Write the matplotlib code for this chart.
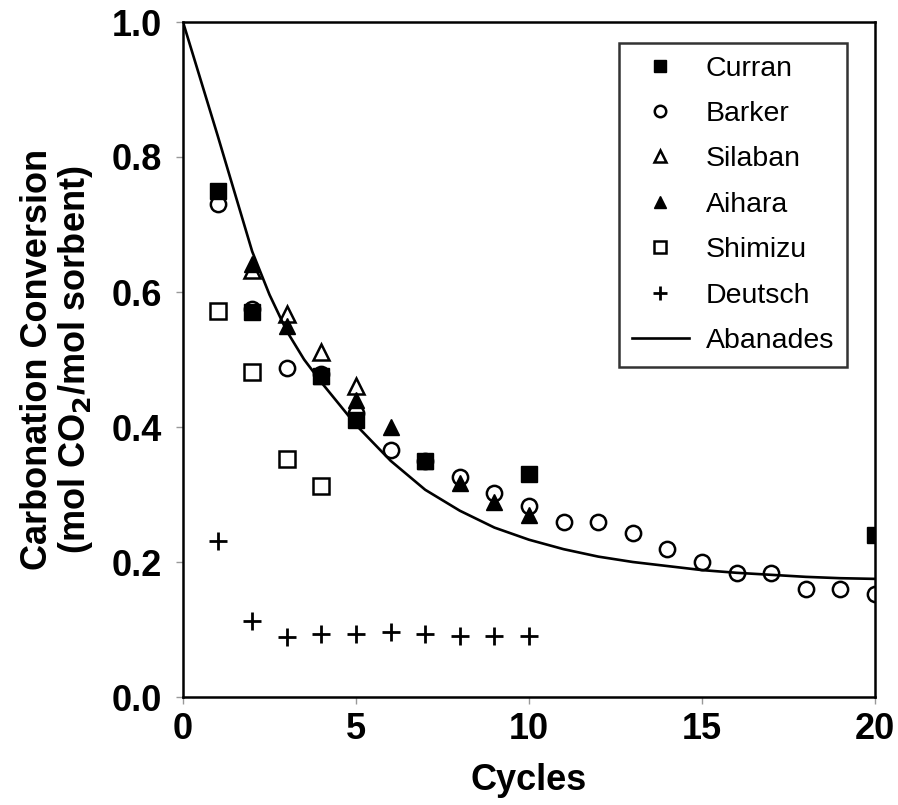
import numpy as np
import matplotlib.pyplot as plt

# data
curran_x = [1, 2, 4, 5, 7, 10, 20]
curran_y = [0.75, 0.57, 0.475, 0.41, 0.35, 0.33, 0.24]

barker_x = list(range(1, 21))
barker_y = [0.73, 0.575, 0.488, 0.478, 0.42, 0.366, 0.35, 0.326, 0.302, 0.283,
            0.26, 0.26, 0.243, 0.22, 0.2, 0.183, 0.183, 0.16, 0.16, 0.152]

silaban_x = [2, 3, 4, 5]
silaban_y = [0.632, 0.568, 0.511, 0.46]

aihara_x = [2, 3, 4, 5, 6, 7, 8, 9, 10]
aihara_y = [0.642, 0.55, 0.475, 0.44, 0.4, 0.35, 0.317, 0.289, 0.27]

shimizu_x = [1, 2, 3, 4]
shimizu_y = [0.572, 0.481, 0.352, 0.312]

deutsch_x = list(range(1, 11))
deutsch_y = [0.231, 0.112, 0.089, 0.093, 0.093, 0.096, 0.093, 0.091, 0.091, 0.091]

abanades_x = [0, 0.5, 1, 1.5, 2, 2.5, 3, 3.5, 4, 5, 6, 7, 8, 9, 10,
              11, 12, 13, 14, 15, 16, 17, 18, 19, 20]
abanades_y = [1.0, 0.916, 0.832, 0.746, 0.66, 0.596, 0.542, 0.5, 0.466, 0.403,
              0.35, 0.307, 0.276, 0.251, 0.233, 0.219, 0.208, 0.2, 0.194,
              0.188, 0.184, 0.181, 0.178, 0.176, 0.175]

fig = plt.figure(figsize=(8.98, 8.05), dpi=100)
ax = fig.add_axes([183/898, 1-697/805, 692/898, 675/805])

ms = 11
ax.plot(curran_x, curran_y, 's', color='black', ms=ms, label='Curran', zorder=3)
ax.plot(barker_x, barker_y, 'o', mfc='none', mec='black', mew=1.8, ms=ms, label='Barker', zorder=3)
ax.plot(silaban_x, silaban_y, '^', mfc='none', mec='black', mew=1.8, ms=ms+1, label='Silaban', zorder=3)
ax.plot(aihara_x, aihara_y, '^', color='black', ms=ms+1, label='Aihara', zorder=3)
ax.plot(shimizu_x, shimizu_y, 's', mfc='none', mec='black', mew=1.8, ms=ms, label='Shimizu', zorder=3)
ax.plot(deutsch_x, deutsch_y, '+', color='black', mew=2.0, ms=ms+2, label='Deutsch', zorder=3)
ax.plot(abanades_x, abanades_y, '-', color='black', lw=1.9, label='Abanades', zorder=2)

ax.set_xlim(0, 20)
ax.set_ylim(0, 1.0)
ax.set_xticks([0, 5, 10, 15, 20])
ax.set_yticks([0.0, 0.2, 0.4, 0.6, 0.8, 1.0])
ax.set_yticklabels(['0.0', '0.2', '0.4', '0.6', '0.8', '1.0'])
ax.tick_params(direction='out', length=5, width=1, color='#999999', labelsize=26, pad=6)
ax.tick_params(axis='y', pad=10)
for lab in ax.get_xticklabels() + ax.get_yticklabels():
    lab.set_fontweight('bold')
    lab.set_family('Liberation Sans')
for sp in ax.spines.values():
    sp.set_linewidth(1.8)

lab_font = {'family': ['Liberation Sans Narrow', 'Liberation Sans'], 'weight': 'bold', 'size': 26}
ax.set_xlabel('Cycles', fontdict=lab_font, labelpad=11)
ax.set_ylabel('Carbonation Conversion\n(mol CO$_\\mathbf{2}$/mol sorbent)', fontdict=lab_font,
              labelpad=12, linespacing=1.05)

leg = ax.legend(loc='upper right', bbox_to_anchor=(0.9595, 0.969), borderaxespad=0,
                frameon=True, fancybox=False, edgecolor='black', markerscale=0.75,
                handlelength=2.0, handletextpad=0.6, labelspacing=0.68, borderpad=0.45,
                prop={'family': 'Liberation Sans', 'size': 20.5})
leg.get_frame().set_linewidth(1.8)

fig.savefig('out.png', dpi=100)
